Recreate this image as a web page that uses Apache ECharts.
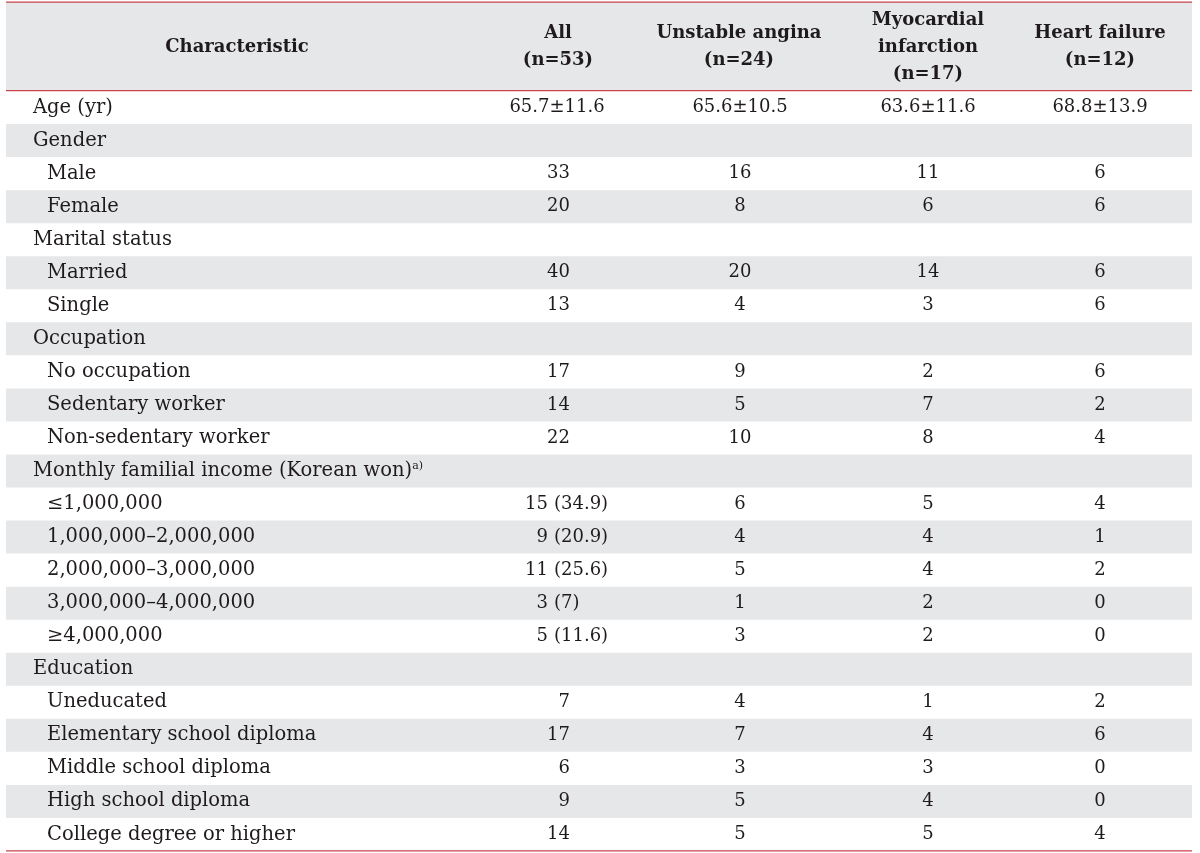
<!DOCTYPE html>
<html>
<head>
<meta charset="utf-8">
<script src="https://cdn.jsdelivr.net/npm/echarts@6/dist/echarts.min.js"></script>
<style>
  html, body { margin: 0; padding: 0; background: #fff; }
  #chart { width: 1200px; height: 853px; }
</style>
</head>
<body>
<div id="chart"></div>
<script>
// table content
var headers = ['Characteristic', 'All\n(n=53)', 'Unstable angina\n(n=24)', 'Myocardial\ninfarction\n(n=17)', 'Heart failure\n(n=12)'];

var rowLabels = [
  'Age (yr)', 'Gender', 'Male', 'Female', 'Marital status', 'Married', 'Single',
  'Occupation', 'No occupation', 'Sedentary worker', 'Non-sedentary worker',
  'Monthly familial income (Korean won)', '≤1,000,000', '1,000,000–2,000,000',
  '2,000,000–3,000,000', '3,000,000–4,000,000', '≥4,000,000',
  'Education', 'Uneducated', 'Elementary school diploma', 'Middle school diploma',
  'High school diploma', 'College degree or higher'
];
var rowIndent = [0, 0, 1, 1, 0, 1, 1, 0, 1, 1, 1, 0, 1, 1, 1, 1, 1, 0, 1, 1, 1, 1, 1];
var rowNotes = { 11: 'a)' };

var allPatients = ['65.7±11.6', '', '33', '20', '', '40', '13', '', '17', '14', '22', '',
  '15 (34.9)', '9 (20.9)', '11 (25.6)', '3 (7)', '5 (11.6)', '', '7', '17', '6', '9', '14'];
var unstableAngina = ['65.6±10.5', '', '16', '8', '', '20', '4', '', '9', '5', '10', '',
  '6', '4', '5', '1', '3', '', '4', '7', '3', '5', '5'];
var myocardialInfarction = ['63.6±11.6', '', '11', '6', '', '14', '3', '', '2', '7', '8', '',
  '5', '4', '4', '2', '2', '', '1', '4', '3', '4', '5'];
var heartFailure = ['68.8±13.9', '', '6', '6', '', '6', '6', '', '6', '2', '4', '',
  '4', '1', '2', '0', '0', '', '2', '6', '0', '0', '4'];

var FONT = '"DejaVu Serif", serif';
var INK = '#1f1b1c';
var RED = '#c9434b';
var GRAY = '#e6e7e9';

var chart = echarts.init(document.getElementById('chart'));

function txt(x, y, s, align, size, extra) {
  var style = {
    x: x, y: y, text: s, align: align, verticalAlign: 'middle',
    font: size + 'px ' + FONT, fill: INK
  };
  for (var k in extra) style[k] = extra[k];
  return { type: 'text', style: style };
}

var rowIndex = rowLabels.map(function (_, i) { return [0, i]; });

// stripe rows
function renderStripe(params, api) {
  var i = params.dataIndex;
  if (i % 2 === 0) return;
  var p = api.coord([6, i]);
  var h = api.size([0, 1])[1];
  return {
    type: 'rect',
    shape: { x: p[0], y: p[1] - h / 2, width: 1186, height: h },
    style: { fill: GRAY }
  };
}

function renderLabel(params, api) {
  var i = params.dataIndex;
  var p = api.coord([rowIndent[i] ? 47 : 33, i]);
  var s = rowLabels[i];
  var opts = {};
  if (rowNotes[i]) {
    s = s + '{sup|' + rowNotes[i] + '}';
    opts.rich = { sup: { font: '11px ' + FONT, fill: INK, verticalAlign: 'top', lineHeight: 16 } };
  }
  return txt(p[0], p[1], s, 'left', 19.5, opts);
}

function renderAll(params, api) {
  var i = params.dataIndex;
  var s = allPatients[i];
  if (!s) return;
  var m = s.match(/^(\d+) (\(.*\))$/);
  if (m) {
    var a = api.coord([548, i]);
    var b = api.coord([554, i]);
    return { type: 'group', children: [txt(a[0], a[1], m[1], 'right', 18), txt(b[0], b[1], m[2], 'left', 18)] };
  }
  if (s.indexOf('±') >= 0) {
    var c = api.coord([557, i]);
    return txt(c[0], c[1], s, 'center', 18);
  }
  var r = api.coord([570, i]);
  return txt(r[0], r[1], s, 'right', 18);
}

function centered(values, cx) {
  return function (params, api) {
    var i = params.dataIndex;
    if (!values[i]) return;
    var p = api.coord([cx, i]);
    return txt(p[0], p[1], values[i], 'center', 18);
  };
}

function series(fn) {
  return { type: 'custom', renderItem: fn, data: rowIndex, encode: { x: 0, y: 1 }, silent: true };
}

var headerX = [237, 558, 739, 928, 1100];
var headerGraphics = [
  { type: 'rect', shape: { x: 6, y: 2, width: 1186, height: 89 }, style: { fill: GRAY } },
  { type: 'rect', shape: { x: 6, y: 1.5, width: 1186, height: 1.3 }, style: { fill: RED } },
  { type: 'rect', shape: { x: 6, y: 90, width: 1186, height: 1.3 }, style: { fill: RED } },
  { type: 'rect', shape: { x: 6, y: 850.2, width: 1186, height: 1.3 }, style: { fill: RED } }
];
headers.forEach(function (h, k) {
  headerGraphics.push({
    type: 'text',
    x: headerX[k], y: 47,
    style: {
      text: h, align: 'center', verticalAlign: 'middle',
      font: 'bold 18px ' + FONT, lineHeight: 27, fill: INK
    }
  });
});

chart.setOption({
  animation: false,
  grid: { left: 6, right: 8, top: 91, bottom: 2 },
  xAxis: { type: 'value', min: 6, max: 1192, show: false },
  yAxis: { type: 'category', inverse: true, data: rowLabels, show: false },
  graphic: headerGraphics,
  series: [
    series(renderStripe),
    series(renderLabel),
    series(renderAll),
    series(centered(unstableAngina, 740)),
    series(centered(myocardialInfarction, 928)),
    series(centered(heartFailure, 1100))
  ]
});
</script>
</body>
</html>
